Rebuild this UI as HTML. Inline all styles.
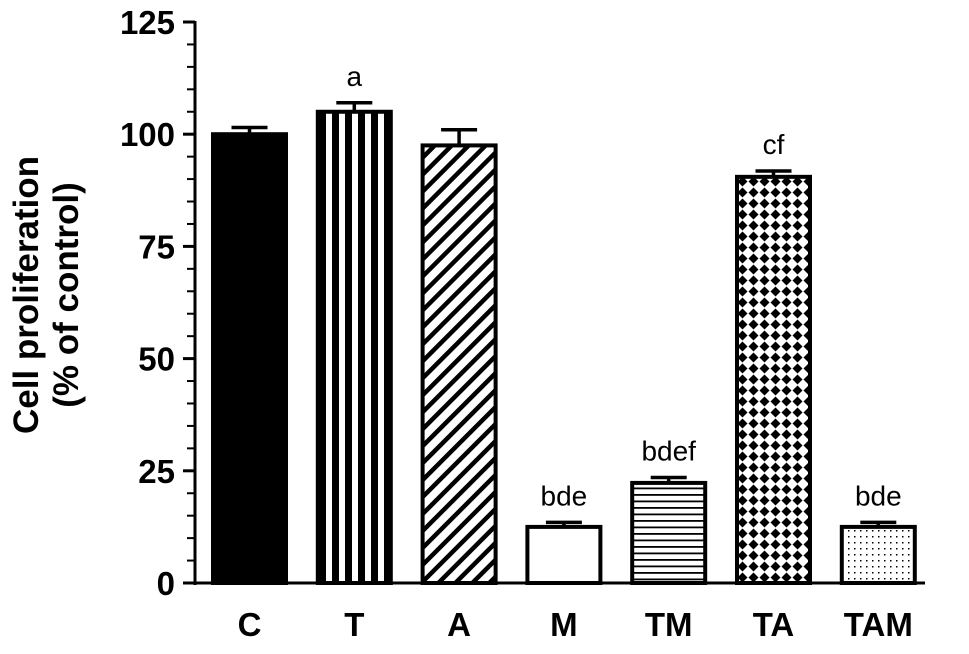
<!DOCTYPE html>
<html><head><meta charset="utf-8"><style>
body{margin:0;background:#fff}
svg{display:block;font-family:"Liberation Sans",Arial,sans-serif}
</style></head><body>
<svg id="chart" width="969" height="654" viewBox="0 0 969 654">
<defs>
<pattern id="pv" width="13" height="10" patternUnits="userSpaceOnUse" x="319"><rect width="13" height="10" fill="#fff"/><rect x="0" width="7" height="10" fill="#000"/></pattern>
<pattern id="pd" width="12" height="12" patternUnits="userSpaceOnUse" patternTransform="rotate(45)"><rect width="12" height="12" fill="#fff"/><rect width="4.5" height="12" fill="#000"/></pattern>
<pattern id="ph" width="10" height="6.5" patternUnits="userSpaceOnUse"><rect width="10" height="6.5" fill="#fff"/><rect width="10" height="1.8" fill="#000"/></pattern>
<pattern id="pq" width="11" height="11" patternUnits="userSpaceOnUse"><rect width="11" height="11" fill="#fff"/><polygon points="5.5,0.5 10.5,5.5 5.5,10.5 0.5,5.5" fill="#000"/></pattern>
<pattern id="pdot" width="6" height="6" patternUnits="userSpaceOnUse"><rect width="6" height="6" fill="#fff"/><rect x="2" y="2" width="1.5" height="1.5" fill="#000"/></pattern>
</defs>
<g id="axes"></g>
<g id="bars"></g>
<text transform="translate(0,295) rotate(-90)" text-anchor="middle" font-size="35" font-weight="bold"><tspan x="0" y="38">Cell proliferation</tspan><tspan x="0" y="78">(% of control)</tspan></text>
</svg>
<script>
const categories=["C","T","A","M","TM","TA","TAM"];
const values=[100,105,97.5,12.5,22.3,90.5,12.5];
const errors=[1.5,2,3.5,1,1.2,1.3,1];
const labels=["","a","","bde","bdef","cf","bde"];
const fills=["#000","url(#pv)","url(#pd)","#fff","url(#ph)","url(#pq)","url(#pdot)"];
const yTicks=[0,25,50,75,100,125];
const NS="http://www.w3.org/2000/svg";
const y0=583,pxu=4.488,axX=195;
const y=v=>y0-v*pxu;
const xLeft=i=>213+i*104.8;
const bw=73;
function mk(t,a,p){const e=document.createElementNS(NS,t);for(const k in a)e.setAttribute(k,a[k]);p.appendChild(e);return e;}
const ax=document.getElementById('axes'),bars=document.getElementById('bars');
const yl=mk('line',{x1:axX,y1:y(125)-1,x2:axX,y2:y0+2,stroke:'#000','stroke-width':3},ax);


const xl=mk('line',{x1:axX-1,y1:y0,x2:925,y2:y0,stroke:'#000','stroke-width':3},ax);


for(let v=0;v<=125;v+=5){
  const major=v%25===0;
  mk('line',{x1:major?axX-12:axX-8,y1:y(v),x2:axX,y2:y(v),stroke:'#000','stroke-width':major?3:2},ax);
}
yTicks.forEach(v=>{
  const t=mk('text',{x:175,y:y(v)+12,'text-anchor':'end','font-size':33,'font-weight':'bold'},ax);
  t.textContent=v;
  
  
});
categories.forEach((c,i)=>{
  const x=xLeft(i),cx=x+bw/2,top=y(values[i]),et=y(values[i]+errors[i]);
  const r=mk('rect',{x:x,y:top,width:bw,height:y0-top,fill:fills[i],stroke:'#000','stroke-width':4},bars);
  
  
  const e=mk('path',{d:`M${cx},${top}V${et}M${cx-18},${et}H${cx+18}`,stroke:'#000','stroke-width':3.5,fill:'none'},bars);
  
  
  const t=mk('text',{x:cx,y:636,'text-anchor':'middle','font-size':33,'font-weight':'bold'},bars);
  t.textContent=c;
  
  
  if(labels[i]){
    const s=mk('text',{x:cx,y:et-17,'text-anchor':'middle','font-size':28},bars);
    s.textContent=labels[i];
    
    
  }
});
</script>
</body></html>
